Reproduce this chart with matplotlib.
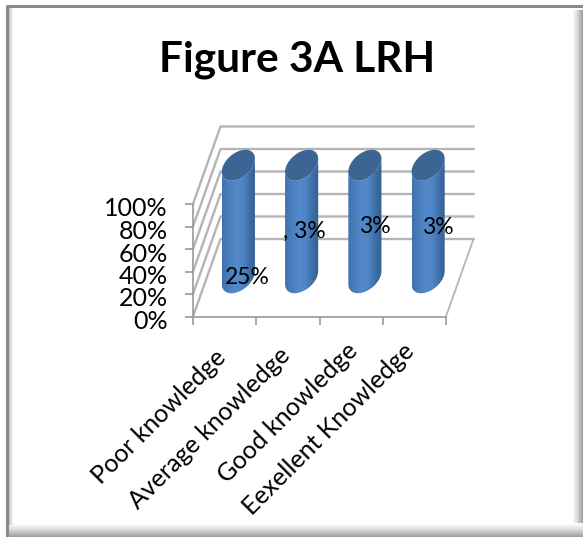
import numpy as np
import matplotlib
matplotlib.use("Agg")
import matplotlib.pyplot as plt
from matplotlib.patches import Polygon
from matplotlib.colors import LinearSegmentedColormap
from matplotlib.transforms import ScaledTranslation

categories = ["Poor knowledge", "Average knowledge", "Good knowledge", "Eexellent Knowledge"]
stack_totals = [100, 100, 100, 100]
value_labels = ["25%", ", 3%", "3%", "3%"]
label_heights = [35, 76, 80, 79]
label_shift = [0.137, 0.038, 0.16, 0.153]
category_nudge = [(-11, -9), (-10, -7), (-5, -3), (-12, -3)]
y_ticks = [0, 20, 40, 60, 80, 100]
y_tick_labels = ["0%", "20%", "40%", "60%", "80%", "100%"]

W, H = 583, 537
plt.rcParams["font.family"] = ["Lato", "DejaVu Sans"]

fig = plt.figure(figsize=(W / 100, H / 100), dpi=100, facecolor="white")

# Picture frame drawn in pixel space behind everything
bg = fig.add_axes([0, 0, 1, 1], zorder=0)
bg.axis("off")
shade = LinearSegmentedColormap.from_list("shade", ["#ffffff", "#d8d8d8", "#a0a0a0"])
bg.imshow(np.linspace(0, 1, 12)[None, :], extent=(572, 583, 537, 10), cmap=shade, aspect="auto", zorder=1)
bg.imshow(np.linspace(0, 1, 14)[:, None], extent=(8, 583, 537, 523), cmap=shade, aspect="auto", zorder=1)
bg.imshow(np.linspace(1, 0, 7)[None, :], extent=(7, 14, 525, 8), cmap=shade, aspect="auto", zorder=1)
bg.plot([6.5, 6.5, 583], [537, 6, 6], color="#8a8a8a", lw=2.2, solid_capstyle="butt", zorder=2)
bg.set_xlim(0, W)
bg.set_ylim(H, 0)

fig.text(297 / W, 1 - 60 / H, "Figure 3A LRH", ha="center", va="center",
         fontsize=30.5, fontweight="bold", color="black")

# Front plane of the oblique plot box
L, R, B, T = 193, 446, 316.5, 204
ax = fig.add_axes([L / W, 1 - B / H, (R - L) / W, (B - T) / H], zorder=2)
ax.patch.set_visible(False)
for s in ("top", "right"):
    ax.spines[s].set_visible(False)
for s in ("left", "bottom"):
    ax.spines[s].set_color("#9a9a9a")
    ax.spines[s].set_linewidth(1.2)

DX = 27.5 / (R - L) * 4
DY = 77.5 / (B - T) * 100


def project(x, y, depth):
    return x + depth * DX, y + depth * DY


GRID = "#b5b5b5"
for v in y_ticks:
    xs, ys = zip(project(0, v, 0), project(0, v, 1), project(4, v, 1))
    ax.plot(xs, ys, color=GRID, lw=1.7, clip_on=False, zorder=1)
xs, ys = zip(project(4, 0, 0), project(4, 0, 1))
ax.plot(xs, ys, color=GRID, lw=1.3, clip_on=False, zorder=1)

body_cmap = LinearSegmentedColormap.from_list(
    "body", ["#3f73ad", "#4a7fbd", "#5289cb", "#4f86c6", "#3f70aa", "#34608f"])

# Cylinder end caps are tilted ellipses, sampled around their rim
RIM_A, RIM_B = 15 / (R - L) * 4, 7 / (R - L) * 4
RIM_C = 15.5 / (B - T) * 100
theta = np.linspace(0, 2 * np.pi, 241)[:-1]
for i, total in enumerate(stack_totals):
    cx, cy0 = project(i + 0.5, 0, 0.5)
    cy1 = cy0 + total
    ex = cx + RIM_A * np.cos(theta) + RIM_B * np.sin(theta)
    ey = RIM_C * np.sin(theta)
    a, b = sorted((int(np.argmax(ex)), int(np.argmin(ex))))
    # Part of the rim that faces the viewer, used for the lower edge of the body
    front = np.arange(a, b + 1) if ey[(a + b) // 2] < 0 else np.r_[b:len(ex), 0:a + 1]
    outline = np.c_[np.r_[ex[front], ex[front][::-1]],
                    np.r_[cy0 + ey[front], cy1 + ey[front][::-1]]]
    grad = ax.imshow(np.linspace(0, 1, 64)[None, :],
                     extent=(ex.min(), ex.max(), cy0 - 2 * RIM_C, cy1 + 2 * RIM_C),
                     cmap=body_cmap, aspect="auto", zorder=3)
    body = Polygon(outline, closed=True, transform=ax.transData, fc="none", ec="none")
    ax.add_patch(body)
    grad.set_clip_box(fig.bbox)
    grad.set_clip_path(body)
    ax.fill(ex, cy1 + ey, color="#3c6594", zorder=4, clip_on=False, lw=0)
    ax.text(i + 0.5 + 0.5 * DX + label_shift[i], label_heights[i], value_labels[i],
            ha="center", va="center", fontsize=16.5, color="black", zorder=5, clip_on=False)

ax.set_xlim(0, 4)
ax.set_ylim(0, 100)

ax.set_yticks(y_ticks, y_tick_labels, fontsize=18)
ax.set_xticks(range(5), [""] * 5)
ax.set_xticks(np.arange(4) + 0.5, categories, minor=True, rotation=45, ha="right",
              rotation_mode="anchor", fontsize=18)
ax.tick_params(axis="both", which="major", color="#9a9a9a", length=6, width=1.2)
ax.tick_params(axis="y", which="major", pad=12)
ax.tick_params(axis="x", which="minor", length=0, pad=14)
for tick_label, (dx, dy) in zip(ax.get_xticklabels(minor=True), category_nudge):
    tick_label.set_transform(tick_label.get_transform()
                             + ScaledTranslation(dx / 100, dy / 100, fig.dpi_scale_trans))
for tick_label in ax.get_yticklabels():
    tick_label.set_transform(tick_label.get_transform()
                             + ScaledTranslation(0, -3 / 100, fig.dpi_scale_trans))

fig.savefig("out.png", dpi=100)
